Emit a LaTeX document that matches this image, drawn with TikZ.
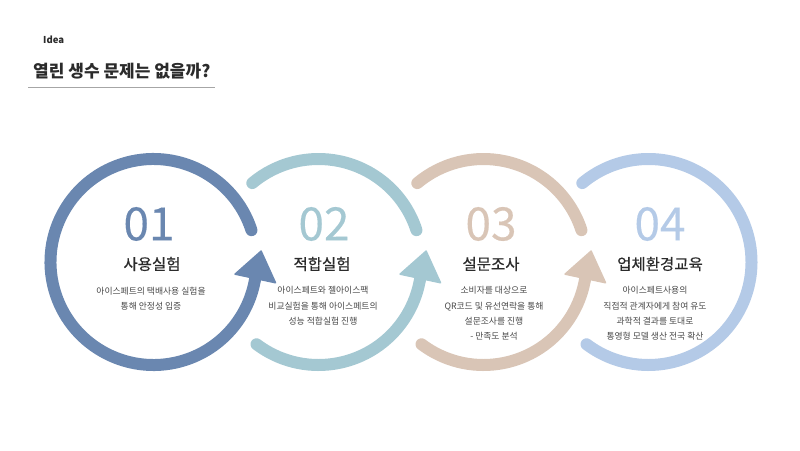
\documentclass[tikz,border=0pt]{standalone}
\usepackage{fontspec}
\setmainfont{Noto Sans CJK KR}
\newfontfamily\medfont[FakeBold=0.5]{Noto Sans CJK KR}
\newfontfamily\numfont[FakeBold=0.3]{Noto Sans CJK KR}
\usetikzlibrary{arrows.meta}
\definecolor{ringA}{HTML}{6A87B0}
\definecolor{ringB}{HTML}{A4C8D2}
\definecolor{ringC}{HTML}{D9C5B6}
\definecolor{ringD}{HTML}{B4CAE7}
\definecolor{bodygray}{HTML}{474747}
\definecolor{headgray}{HTML}{2B2B2B}
\begin{document}
\begin{tikzpicture}[
 x=1pt,y=1pt,
 every node/.style={inner sep=0pt,text=headgray},
 ring/.style={line width=12pt,line cap=round},
 ringtip/.style={ring,-{Triangle[length=30pt,width=44pt,round,line width=1.5pt]}},
 stepnum/.style={font=\numfont\fontsize{46}{46}\selectfont},
 stepname/.style={font=\medfont\fontsize{15.5}{18}\selectfont},
 stepnote/.style={anchor=north,align=center,text=bodygray,
  font=\fontsize{8.8}{15.2}\selectfont}
]
 \useasboundingbox (0,0) rectangle (800,450);

 % heading
 \node[anchor=west,font=\fontsize{9.5}{11}\bfseries] (idea) at (43,410) {Idea};
 \node[anchor=west,font=\fontsize{17}{20}\bfseries] (question) at (33,378.5)
  {열린 생수 문제는 없을까?};
 \draw[black!35,line width=0.8pt] (28,363) -- (215,363);

 \coordinate (c1) at (153.5,188);
 \coordinate (c2) at (318.5,188);
 \coordinate (c3) at (483.5,188);
 \coordinate (c4) at (648.5,188);

 % rings, the left part of 2--4 is covered by the ring before
 \draw[ring,ringD] (c4) ++(233:103) arc[start angle=233,end angle=490,radius=103];
 \draw[ring,ringC] (c3) ++(18:103) arc[start angle=18,end angle=130,radius=103];
 \draw[ringtip,ringC] (c3) ++(233:103) arc[start angle=233,end angle=349,radius=103]
  -- ++(78:32);
 \draw[ring,ringB] (c2) ++(18:103) arc[start angle=18,end angle=130,radius=103];
 \draw[ringtip,ringB] (c2) ++(233:103) arc[start angle=233,end angle=349,radius=103]
  -- ++(78:32);
 \draw[ringtip,ringA] (c1) ++(18:103) arc[start angle=18,end angle=349,radius=103]
  -- ++(78:32);

 \node[stepnum,text=ringA] (n1) at (149,226) {01};
 \node[stepname] (t1) at (152,186) {사용실험};
 \node[stepnote] (d1) at (151,163.5)
  {아이스페트의 택배사용 실험을\\통해 안정성 입증};

 \node[stepnum,text=ringB] (n2) at (324,226) {02};
 \node[stepname] (t2) at (322,186) {적합실험};
 \node[stepnote] (d2) at (323,163.5)
  {아이스페트와 젤아이스팩\\비교실험을 통해 아이스페트의\\성능 적합실험 진행};

 \node[stepnum,text=ringC] (n3) at (491,226) {03};
 \node[stepname] (t3) at (491,186) {설문조사};
 \node[stepnote] (d3) at (494,163.5)
  {소비자를 대상으로\\QR코드 및 유선연락을 통해\\설문조사를 진행\\- 만족도 분석};

 \node[stepnum,text=ringD] (n4) at (660,226) {04};
 \node[stepname] (t4) at (660,186) {업체환경교육};
 \node[stepnote] (d4) at (655,163.5)
  {아이스페트사용의\\직접적 관계자에게 참여 유도\\과학적 결과를 토대로\\통영형 모델 생산 전국 확산};
\end{tikzpicture}
\end{document}
